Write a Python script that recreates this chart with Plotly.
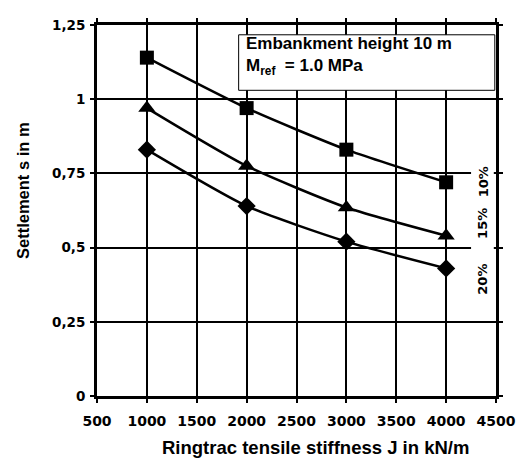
import plotly.graph_objects as go

stiffness = [1000, 2000, 3000, 4000]
s_10 = [1.14, 0.97, 0.83, 0.72]
s_15 = [0.97, 0.775, 0.635, 0.54]
s_20 = [0.83, 0.64, 0.52, 0.43]
series_labels = ["10%", "15%", "20%"]
y_ticks = [0, 0.25, 0.5, 0.75, 1, 1.25]
y_ticktext = ["0", "0,25", "0,5", "0,75", "1", "1,25"]
x_ticks = [500, 1000, 1500, 2000, 2500, 3000, 3500, 4000, 4500]

FONT = "Liberation Sans, Arial, sans-serif"
TICKFONT = "DejaVu Sans, Verdana, sans-serif"

fig = go.Figure()

symbols = ["square", "triangle-up", "diamond"]
sizes = [14, 15, 14]
for vals, sym, sz, name in zip([s_10, s_15, s_20], symbols, sizes, series_labels):
    fig.add_trace(go.Scatter(
        x=stiffness, y=vals, mode="lines+markers", name=name,
        line=dict(color="black", width=2.5, shape="spline", smoothing=0.6),
        marker=dict(symbol=sym, size=sz, color="black"),
        showlegend=False,
    ))

# white strip behind the percentage labels (hides gridlines there)
fig.add_shape(type="rect", xref="x", yref="y", x0=4250, x1=4478, y0=0.3, y1=0.8,
              fillcolor="white", line=dict(width=0), layer="above")

label_y = [0.72, 0.58, 0.392]
for lab, yv in zip(series_labels, label_y):
    fig.add_annotation(
        x=4370, y=yv, xref="x", yref="y", text="<b>%s</b>" % lab,
        textangle=-90, showarrow=False,
        font=dict(family=TICKFONT, size=13, color="black"),
    )

# info box
fig.add_shape(type="rect", xref="x", yref="y", x0=1920, x1=4488, y0=1.03, y1=1.217,
              fillcolor="white", line=dict(color="black", width=1), layer="above")
fig.add_annotation(
    x=1970, y=1.145, xref="x", yref="y", xanchor="left", yanchor="middle",
    text="<b>Embankment height 10 m</b><br><b>M<sub>ref</sub>  = 1.0 MPa</b>",
    showarrow=False, align="left",
    font=dict(family=FONT, size=17, color="black"),
)

# axis titles as annotations for exact placement
fig.add_annotation(
    x=0.547, y=-0.14, xref="paper", yref="paper", xanchor="center", yanchor="middle",
    text="<b>Ringtrac tensile stiffness J in kN/m</b>", showarrow=False,
    font=dict(family=FONT, size=18.5, color="black"),
)
fig.add_annotation(
    x=-0.185, y=0.553, xref="paper", yref="paper", xanchor="center", yanchor="middle",
    text="<b>Settlement s in m</b>", showarrow=False, textangle=-90,
    font=dict(family=FONT, size=16.5, color="black"),
)

fig.update_xaxes(
    range=[500, 4500], tickvals=x_ticks, showgrid=True, gridcolor="black", gridwidth=1.5,
    showline=True, linecolor="black", linewidth=3, mirror="ticks",
    ticks="outside", ticklen=4, tickwidth=2, tickcolor="black",
    ticklabelstandoff=6,
    tickfont=dict(family=TICKFONT, size=14, color="black", weight="bold"),
    zeroline=False,
)
fig.update_yaxes(
    range=[0, 1.25], tickvals=y_ticks, ticktext=y_ticktext, showgrid=True,
    gridcolor="black", gridwidth=2,
    showline=True, linecolor="black", linewidth=3, mirror="ticks",
    ticks="outside", ticklen=4, tickwidth=2, tickcolor="black",
    ticklabelstandoff=2,
    tickfont=dict(family=TICKFONT, size=13.5, color="black", weight="bold"),
    zeroline=False,
)

# page body has an 8px default margin; size/margins compensate for it
fig.update_layout(
    width=517, height=452, margin=dict(l=89, r=20, t=9, b=64),
    paper_bgcolor="white", plot_bgcolor="white",
)

fig.write_html("out.html")
